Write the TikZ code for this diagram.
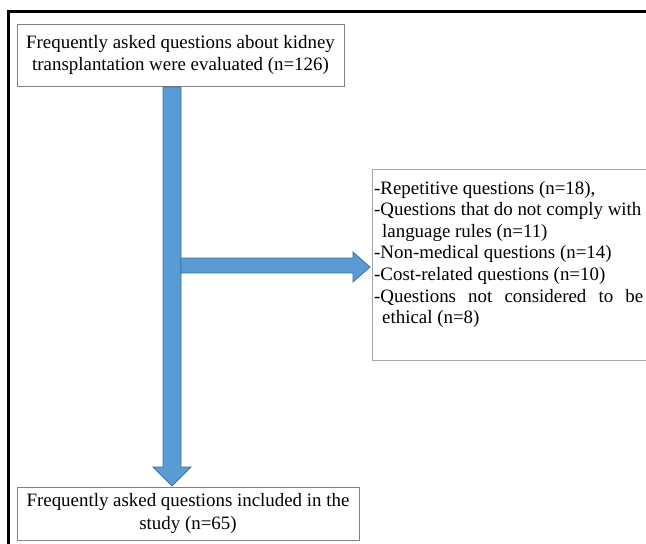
\documentclass[tikz,border=0pt]{standalone}
\usepackage{fontspec}
\setmainfont{Liberation Serif}
\definecolor{arrowblue}{HTML}{5B9BD5}
\definecolor{arrowedge}{HTML}{41719C}
\definecolor{boxgray}{HTML}{808080}
\definecolor{lightbox}{HTML}{A6A6A6}
\begin{document}
\begin{tikzpicture}[x=1pt,y=-1pt,
  box/.style={draw=boxgray, line width=1pt, inner sep=0pt, align=center,
    font=\fontsize{18.9}{22.5}\selectfont},
  sidebox/.style={draw=lightbox, line width=1pt, inner sep=0pt},
  listtext/.style={inner sep=0pt, font=\fontsize{18.9}{21.6}\selectfont},
  blockarrow/.style={fill=arrowblue, draw=arrowedge, line width=0.8pt, line join=miter}]
\useasboundingbox (0,0) rectangle (646,544);
\clip (0,0) rectangle (646,544);
% frame
\draw[line width=3pt] (8.5,560) -- (8.5,11) -- (660,11);
% boxes
\node[box, minimum width=327pt, minimum height=62pt] (top) at (180.5,55)
  {Frequently asked questions about kidney\\transplantation were evaluated (n=126)};
\node[box, minimum width=342pt, minimum height=53pt] (bottom) at (188,513.5)
  {Frequently asked questions included in the\\study (n=65)};
\node[sidebox, minimum width=300pt, minimum height=191pt, anchor=north west] (side) at (372,169) {};
\node[listtext, anchor=base west] (list) at (374,194) {\parbox[t]{269pt}{%
-Repetitive questions (n=18),\\
-Questions that do not comply with\\
\hspace*{8pt}language rules (n=11)\\
-Non-medical questions (n=14)\\
-Cost-related questions (n=10)\\
\makebox[269pt][s]{-Questions not considered to be}\\
\hspace*{8pt}ethical (n=8)}};
% vertical block arrow
\draw[blockarrow] (163,87) -- (181,87) -- (181,467) -- (191,467) -- (172,486)
  -- (153,467) -- (163,467) -- cycle;
% horizontal block arrow
\draw[blockarrow] (181,258) -- (353,258) -- (353,252) -- (370,267) -- (353,282)
  -- (353,273) -- (181,273) -- cycle;
\end{tikzpicture}
\end{document}
